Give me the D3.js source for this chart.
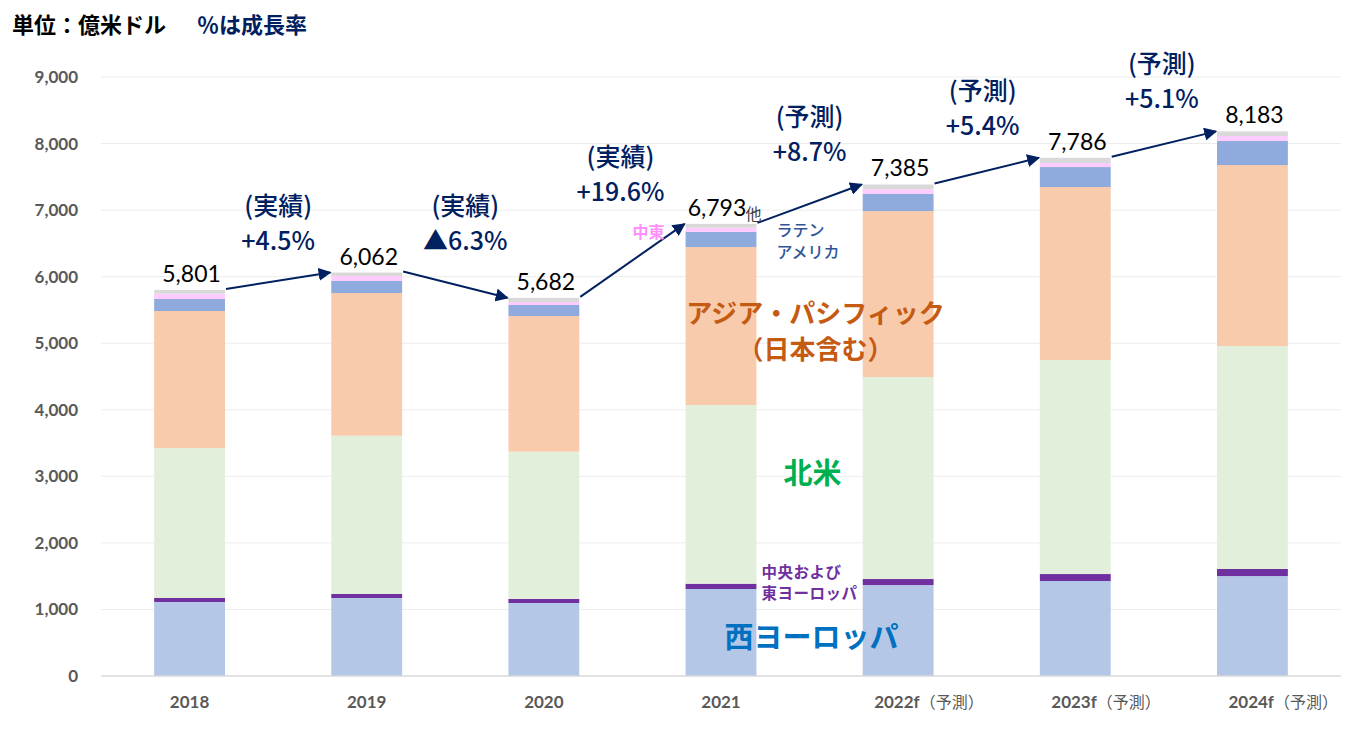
<!DOCTYPE html>
<html>
<head>
<meta charset="utf-8">
<script src="https://cdn.jsdelivr.net/npm/d3@7"></script>
<style>
  body { margin: 0; background: #fff; }
  svg { display: block; }
</style>
</head>
<body>
<svg id="chart" width="1363" height="731"></svg>
<script>
// values in 億米ドル
const years = ["2018", "2019", "2020", "2021", "2022f", "2023f", "2024f"];
const forecast = [false, false, false, false, true, true, true];
const westEurope = [1112, 1172, 1097, 1307, 1367, 1427, 1502];
const centralEastEurope = [60, 60, 60, 80, 90, 105, 106];
const northAmerica = [2253, 2378, 2213, 2685, 3035, 3216, 3350];
const asiaPacific = [2059, 2144, 2039, 2373, 2494, 2599, 2719];
const latinAmerica = [180, 181, 165, 226, 256, 300, 361];
const middleEast = [80, 75, 45, 65, 70, 60, 75];
const other = [57, 52, 63, 57, 73, 79, 70];
const totals = [5801, 6062, 5682, 6793, 7385, 7786, 8183];
const growthKind = ["(実績)", "(実績)", "(実績)", "(予測)", "(予測)", "(予測)"];
const growthText = ["+4.5%", "▲6.3%", "+19.6%", "+8.7%", "+5.4%", "+5.1%"];
const yTicks = [0, 1000, 2000, 3000, 4000, 5000, 6000, 7000, 8000, 9000];

const keys = ["we", "cee", "na", "apac", "la", "me", "other"];
const colors = {
  we: "#b4c7e7", cee: "#7030a0", na: "#e2efda", apac: "#f8cbad",
  la: "#8faadc", me: "#ffccff", other: "#d9d9d9"
};
// the growth captions were hand placed, nudge them sideways a bit
const growthShift = [0, 10, -12, 0, -4, -2];

const table = years.map((y, i) => ({
  year: y, we: westEurope[i], cee: centralEastEurope[i], na: northAmerica[i],
  apac: asiaPacific[i], la: latinAmerica[i], me: middleEast[i], other: other[i]
}));

const jp = "'Noto Sans CJK JP', 'Noto Sans', sans-serif";
const num = "Lato, 'Liberation Sans', sans-serif";
const navy = "#002060";

const svg = d3.select("#chart");

const x = d3.scaleBand().domain(years).range([101, 1341]).paddingInner(0.6).paddingOuter(0.3);
const y = d3.scaleLinear().domain([0, 9000]).range([676, 77]);

// gridlines
svg.append("g")
  .selectAll("line")
  .data(yTicks.slice(1))
  .join("line")
  .attr("x1", 101).attr("x2", 1341)
  .attr("y1", d => y(d)).attr("y2", d => y(d))
  .attr("stroke", "#ececec").attr("stroke-width", 1);

// y axis
const yAxis = svg.append("g")
  .attr("transform", "translate(92,0)")
  .call(d3.axisLeft(y).tickValues(yTicks).tickFormat(d3.format(",")).tickSize(0).tickPadding(14));
yAxis.select(".domain").remove();
yAxis.selectAll("text")
  .attr("fill", "#595959").attr("font-family", num)
  .attr("font-size", 17).attr("font-weight", "bold");

// stacked bars
const series = d3.stack().keys(keys)(table);
svg.append("g")
  .selectAll("g")
  .data(series)
  .join("g")
  .attr("fill", d => colors[d.key])
  .selectAll("rect")
  .data(d => d)
  .join("rect")
  .attr("x", d => x(d.data.year))
  .attr("y", d => y(d[1]))
  .attr("width", x.bandwidth())
  .attr("height", d => y(d[0]) - y(d[1]));

// baseline
svg.append("line")
  .attr("x1", 101).attr("x2", 1341)
  .attr("y1", y(0)).attr("y2", y(0))
  .attr("stroke", "#d9d9d9").attr("stroke-width", 1.5);

// x labels
const xl = svg.append("g")
  .selectAll("text")
  .data(years)
  .join("text")
  .attr("y", 708)
  .attr("fill", "#595959")
  .attr("font-size", 17);
xl.each(function(d, i) {
  const t = d3.select(this);
  const cx = x(d) + x.bandwidth() / 2;
  if (forecast[i]) {
    t.attr("x", cx - 24).attr("text-anchor", "start");
  } else {
    t.attr("x", cx).attr("text-anchor", "middle");
  }
  t.append("tspan").attr("font-family", num).attr("font-weight", "bold").text(d);
  if (forecast[i]) {
    t.append("tspan").attr("font-family", jp).attr("font-size", 16).text("（予測）");
  }
});

// totals
svg.append("g")
  .selectAll("text")
  .data(totals)
  .join("text")
  .attr("x", (d, i) => x(years[i]) + x.bandwidth() / 2 + (i === 3 ? -4 : 2))
  .attr("y", d => y(d) - 8)
  .attr("text-anchor", "middle")
  .attr("font-family", num).attr("font-size", 23)
  .attr("fill", "#000")
  .text(d => d3.format(",")(d));

// arrows between bar tops
svg.append("defs").append("marker")
  .attr("id", "arrow")
  .attr("viewBox", "0 0 10 10")
  .attr("refX", 9).attr("refY", 5)
  .attr("markerWidth", 6.5).attr("markerHeight", 6.5)
  .attr("markerUnits", "strokeWidth")
  .attr("orient", "auto")
  .append("path")
  .attr("d", "M0,0 L10,5 L0,10 z")
  .attr("fill", navy);

const pairs = d3.range(totals.length - 1);
svg.append("g")
  .selectAll("line")
  .data(pairs)
  .join("line")
  .attr("x1", i => x(years[i]) + x.bandwidth() + 1)
  .attr("y1", i => y(totals[i]) - 1)
  .attr("x2", i => x(years[i + 1]) - 1)
  .attr("y2", i => y(totals[i + 1]))
  .attr("stroke", navy).attr("stroke-width", 2)
  .attr("marker-end", "url(#arrow)");

// growth labels: two lines in one text
const gl = svg.append("g")
  .selectAll("text")
  .data(pairs)
  .join("text")
  .attr("transform", i => {
    const cx = (x(years[i]) + x(years[i + 1])) / 2 + x.bandwidth() / 2 + growthShift[i];
    const top = Math.min(y(totals[i]), y(totals[i + 1]));
    return `translate(${cx},${top - 33})`;
  })
  .attr("text-anchor", "middle")
  .attr("font-family", jp)
  .attr("font-size", 25)
  .attr("font-weight", 500)
  .attr("fill", navy);
gl.append("tspan").attr("x", 0).attr("y", -25).text(i => growthKind[i]);
gl.append("tspan").attr("x", 0).attr("y", 10).text(i => growthText[i]);

// region labels, placed around the 2021 / 2022f bars
const b21 = x("2021"), b22 = x("2022f"), bw = x.bandwidth();
const mid = (b21 + bw + b22) / 2;
const notes = svg.append("g").attr("font-family", jp);

function twoLines(sel, x0, y1, y2, a, b) {
  sel.append("tspan").attr("x", x0).attr("y", y1).text(a);
  sel.append("tspan").attr("x", x0).attr("y", y2).text(b);
  return sel;
}

notes.append("text")
  .attr("x", b21 + bw - 11).attr("y", y(totals[3]) - 4)
  .attr("font-size", 16).attr("fill", "#404040").text("他");

notes.append("text")
  .attr("x", b21 - 21).attr("y", y(totals[3]) + 14)
  .attr("text-anchor", "end")
  .attr("font-size", 16).attr("font-weight", "bold").attr("fill", "#ff8fff").text("中東");

twoLines(notes.append("text")
  .attr("font-size", 16).attr("font-weight", "500").attr("fill", "#2f5597"),
  b21 + bw + 20, y(totals[3]) + 12, y(totals[3]) + 34, "ラテン", "アメリカ");

twoLines(notes.append("text")
  .attr("text-anchor", "middle")
  .attr("font-size", 26).attr("font-weight", "bold").attr("fill", "#c55a11"),
  mid + 6, 323, 359, "アジア・パシフィック", "（日本含む）");

notes.append("text")
  .attr("x", mid + 3).attr("y", 484)
  .attr("text-anchor", "middle")
  .attr("font-size", 29).attr("font-weight", "bold").attr("fill", "#00b050")
  .text("北米");

twoLines(notes.append("text")
  .attr("font-size", 15.5).attr("font-weight", "bold").attr("fill", "#7030a0")
  .attr("letter-spacing", 0.5),
  b21 + bw + 5, 578, 599, "中央および", "東ヨーロッパ");

notes.append("text")
  .attr("x", mid + 2).attr("y", 648)
  .attr("text-anchor", "middle")
  .attr("font-size", 29).attr("font-weight", "bold").attr("fill", "#0070c0")
  .text("西ヨーロッパ");

// header
const head = svg.append("text")
  .attr("x", 12).attr("y", 33)
  .attr("font-family", jp).attr("font-size", 22).attr("font-weight", "bold");
head.append("tspan").attr("fill", "#000").text("単位：億米ドル");
head.append("tspan").attr("x", 197).attr("fill", navy).text("％は成長率");
</script>
</body>
</html>
